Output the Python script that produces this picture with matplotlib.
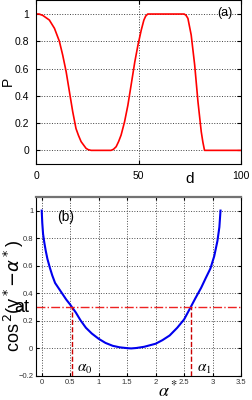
import numpy as np
import matplotlib
matplotlib.use("Agg")
import matplotlib.pyplot as plt

plt.rcParams['font.family'] = ['Liberation Sans', 'DejaVu Sans']

# panel (a): probability vs distance
d_vals = [0, 1.5, 3.3, 6.5, 9, 11.4, 13, 14.7, 16.3, 17.9, 19.5, 20.7, 22, 24.4, 25.5, 26.9,
          36.6, 37.8, 39.1, 40.3, 41.5, 43.2, 44.8, 46.4, 47.3, 48.2, 49.7, 51.3, 52.6, 53.5,
          54.5, 72.3, 73.2, 74.1, 75.7, 77.4, 79.0, 80.6, 81.4, 82.2, 100]
p_vals = [1, 1.0, 0.99, 0.956, 0.895, 0.80, 0.70, 0.577, 0.43, 0.284, 0.16, 0.11, 0.064, 0.015,
          0.005, 0,
          0, 0.008, 0.027, 0.065, 0.112, 0.21, 0.33, 0.48, 0.565, 0.65, 0.77, 0.88, 0.955, 0.985,
          1, 1, 0.99, 0.968, 0.846, 0.626, 0.357, 0.137, 0.06, 0, 0]

# panel (b): cos^2 curve vs alpha*
alpha_vals = [0, 0.01, 0.024, 0.045, 0.07, 0.1, 0.14, 0.185, 0.235, 0.3, 0.365, 0.43, 0.5,
              0.53, 0.6, 0.68, 0.776, 0.88, 1.0, 1.12, 1.247, 1.37, 1.5, 1.57, 1.66, 1.8,
              2.0, 2.12, 2.247, 2.38, 2.5, 2.617, 2.70, 2.80, 2.88, 2.963, 3.03, 3.086,
              3.12, 3.14]
cos_vals = [1, 0.91, 0.83, 0.77, 0.71, 0.65, 0.59, 0.53, 0.475, 0.435, 0.395, 0.355, 0.318,
            0.30, 0.26, 0.205, 0.15, 0.108, 0.07, 0.04, 0.019, 0.008, 0.002, 0, 0.003, 0.012,
            0.034, 0.06, 0.094, 0.15, 0.21, 0.30, 0.365, 0.44, 0.51, 0.58, 0.67, 0.78,
            0.88, 1.0]
threshold = 0.3
alpha_cross = [0.53, 2.62]
alpha_names = [r'$\alpha_0$', r'$\alpha_1$']
alpha_name_pos = [0.76, 2.86]

fig = plt.figure(figsize=(2.52, 4.0), dpi=100)

ax1 = fig.add_axes([0.1429, 0.59, 0.8135, 0.409])
ax1.plot(d_vals, p_vals, color='red', lw=1.2)
ax1.set_xlim(0, 100)
ax1.set_ylim(-0.1, 1.1)
ax1.set_xticks([0, 50, 100])
ax1.set_yticks([0, 0.2, 0.4, 0.6, 0.8, 1])
ax1.set_yticklabels(['0', '0.2', '0.4', '0.6', '0.8', '1'])
ax1.grid(True, ls=':', color='0.25', lw=0.7)
ax1.tick_params(direction='in', top=True, right=True, labelsize=7.5, length=3, pad=5)
ax1.text(0.92, 0.92, '(a)', transform=ax1.transAxes, ha='center', va='center', fontsize=9)
fig.text(8 / 252, 1 - 81 / 400, 'P', rotation=90, ha='center', va='center', fontsize=10)
fig.text(190 / 252, 1 - 179 / 400, 'd', ha='center', va='center', fontsize=11)

ax2 = fig.add_axes([0.1429, 0.06, 0.8135, 0.448])
ax2.plot(alpha_vals, cos_vals, color='#0000ee', lw=1.5)
ax2.axhline(threshold, color='#ee2222', ls='-.', lw=1.0)
ax2.vlines(alpha_cross, -0.2, threshold, color='#cc0000', ls='--', lw=1.0)
for xpos, name in zip(alpha_name_pos, alpha_names):
    ax2.text(xpos, -0.15, name, ha='center', va='center', fontsize=11, math_fontfamily='stix')
ax2.set_xlim(-0.1, 3.5)
ax2.set_ylim(-0.2, 1.1)
ax2.set_xticks(np.arange(0, 3.51, 0.5))
ax2.set_xticklabels(['0', '0.5', '1', '1.5', '2', '2.5', '3', '3.5'])
ax2.set_yticks([-0.2, 0, 0.2, 0.4, 0.6, 0.8, 1])
ax2.set_yticklabels(['\u22120.2', '0', '0.2', '0.4', '0.6', '0.8', '1'])
ax2.grid(True, ls=':', color='0.3', lw=0.7)
ax2.tick_params(direction='in', top=True, right=True, labelsize=5.5, length=2.5, pad=2,
                labelcolor='0.2')
ax2.spines['top'].set_color('0.45')
ax2.spines['top'].set_linewidth(1.6)
ax2.text(0.146, 0.887, '(b)', transform=ax2.transAxes, ha='center', va='center', fontsize=10)
fig.text(14 / 252, 1 - 296 / 400, r'cos$^{\,2}$(y$^*$$-\alpha^*$)', rotation=90,
         ha='center', va='center', fontsize=13, math_fontfamily='dejavusans')
fig.text(22 / 252, 1 - 307 / 400, 'at', ha='center', va='center', fontsize=13)
fig.text(168 / 252, 1 - 390 / 400, r'$\alpha^*$', ha='center', va='center', fontsize=13,
         math_fontfamily='stix')

fig.savefig('out.png', dpi=100)
